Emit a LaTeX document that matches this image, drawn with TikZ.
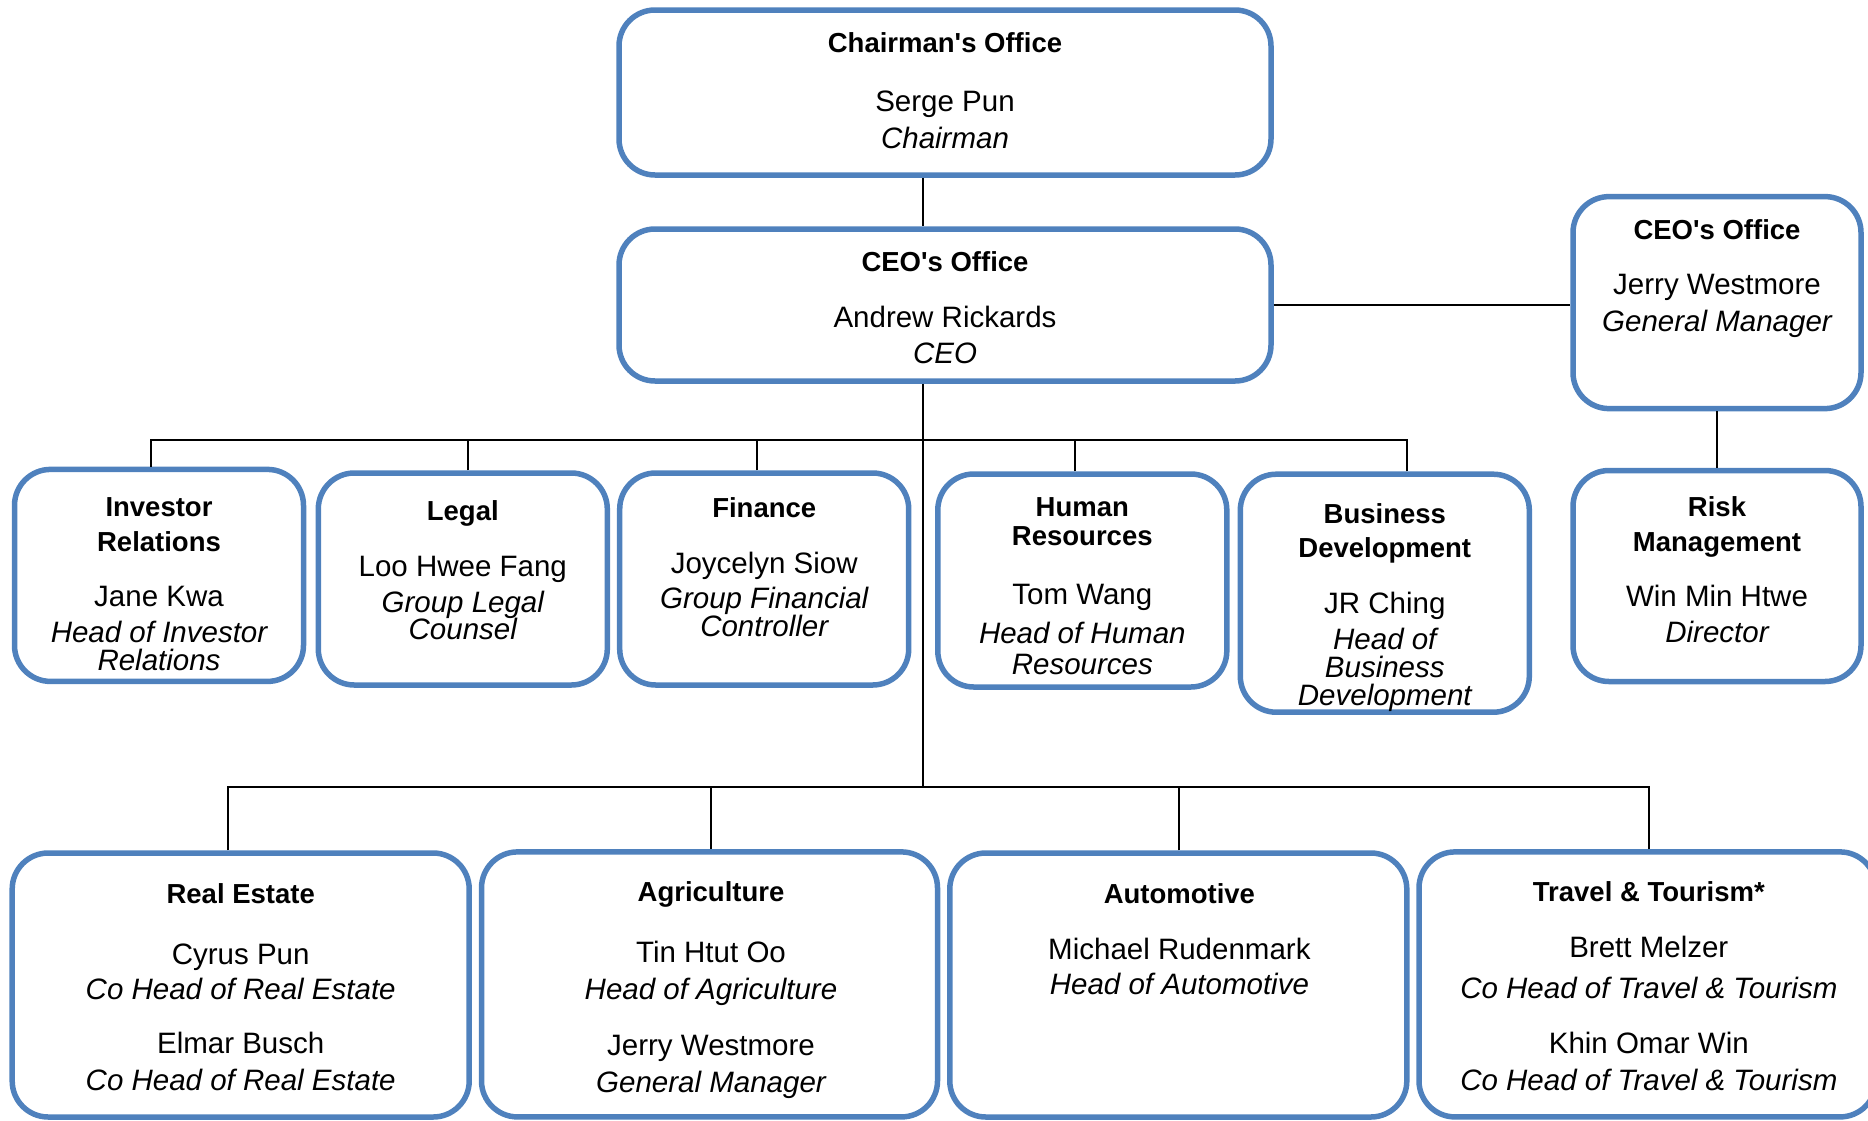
\documentclass[tikz,border=0pt]{standalone}
\usepackage{fontspec}
\setmainfont{Liberation Sans}
\usepackage{tikz}
\usetikzlibrary{calc}
\usepackage{color}

\definecolor{boxblue}{RGB}{79,129,189}

\tikzset{
  unit/.style={draw=boxblue, line width=5.5pt, rounded corners=36pt, inner sep=0pt},
  link/.style={line width=2pt},
  head/.style={font=\bfseries\fontsize{27.5}{30}\selectfont, anchor=base, inner sep=0pt},
  who/.style={font=\fontsize{29.5}{33}\selectfont, anchor=base, inner sep=0pt},
  role/.style={font=\itshape\fontsize{29.5}{33}\selectfont, anchor=base, inner sep=0pt}
}

\begin{document}
\begin{tikzpicture}[x=1pt, y=-1pt]
\useasboundingbox (0,0) rectangle (1868,1120);

% boxes
\node[unit, minimum width=652pt, minimum height=165pt] (chair) at (945,92.5) {};
\node[unit, minimum width=652pt, minimum height=152pt] (ceo) at (945,305) {};
\node[unit, minimum width=288pt, minimum height=212pt] (gm) at (1717,302.6) {};
\node[unit, minimum width=288pt, minimum height=211pt] (risk) at (1717,576) {};
\node[unit, minimum width=289pt, minimum height=212pt] (ir) at (159,575.4) {};
\node[unit, minimum width=289pt, minimum height=212pt] (legal) at (462.8,579) {};
\node[unit, minimum width=289pt, minimum height=212pt] (fin) at (764.2,579) {};
\node[unit, minimum width=289pt, minimum height=213pt] (hr) at (1082.3,580.5) {};
\node[unit, minimum width=289pt, minimum height=238pt] (bd) at (1384.8,593.2) {};
\node[unit, minimum width=457pt, minimum height=264pt] (re) at (240.7,985) {};
\node[unit, minimum width=456pt, minimum height=265pt] (agri) at (709.5,984.4) {};
\node[unit, minimum width=457pt, minimum height=264pt] (auto) at (1178.3,985) {};
\node[unit, minimum width=457pt, minimum height=265pt] (travel) at (1647.5,984.4) {};

% lines
\coordinate (spine) at (923,0);
\coordinate (staff) at (923,439.5);
\coordinate (units) at (923,787);
\draw[link] (chair.south -| spine) -- (ceo.north -| spine);
\draw[link] (ceo.south -| spine) -- (units);
\draw[link] (ceo.east) -- (ceo.east -| gm.west);
\draw[link] (gm.south) -- (risk.north);
\draw[link] ([xshift=-7.7pt]ir.north) |- (staff);
\draw[link] ([xshift=5.4pt]legal.north) |- (staff);
\draw[link] ([xshift=-7.7pt]fin.north) |- (staff);
\draw[link] ([xshift=-7.7pt]hr.north) |- (staff);
\draw[link] ([xshift=22pt]bd.north) |- (staff);
\draw[link] ([xshift=-13pt]re.north) |- (units);
\draw[link] ([xshift=1.7pt]agri.north) |- (units);
\draw[link] ([xshift=1pt]auto.north) |- (units);
\draw[link] ([xshift=1.3pt]travel.north) |- (units);

% top
\node[head] (chair-t) at (945,52) {Chairman\textquotesingle s Office};
\node[who] (chair-n) at (945,111.5) {Serge Pun};
\node[role] (chair-r) at (945,148.5) {Chairman};
\node[head] (ceo-t) at (945,271) {CEO\textquotesingle s Office};
\node[who] (ceo-n) at (945,327.5) {Andrew Rickards};
\node[role] (ceo-r) at (945,363) {CEO};
\node[head] (gm-t) at (1717,239) {CEO\textquotesingle s Office};
\node[who] (gm-n) at (1717,294) {Jerry Westmore};
\node[role] (gm-r) at (1717,331) {General Manager};
\node[head] (risk-t1) at (1717,516.5) {Risk};
\node[head] (risk-t2) at (1717,551) {Management};
\node[who] (risk-n) at (1717,606) {Win Min Htwe};
\node[role] (risk-r) at (1717,642) {Director};

% group functions
\node[head] (ir-t1) at (159,516.5) {Investor};
\node[head] (ir-t2) at (159,551) {Relations};
\node[who] (ir-n) at (159,606) {Jane Kwa};
\node[role] (ir-r1) at (159,642) {Head of Investor};
\node[role] (ir-r2) at (159,670.5) {Relations};
\node[head] (legal-t) at (462.8,520) {Legal};
\node[who] (legal-n) at (462.8,576.4) {Loo Hwee Fang};
\node[role] (legal-r1) at (462.8,612) {Group Legal};
\node[role] (legal-r2) at (462.8,639.5) {Counsel};
\node[head] (fin-t) at (764.2,517.5) {Finance};
\node[who] (fin-n) at (764.2,573) {Joycelyn Siow};
\node[role] (fin-r1) at (764.2,608.5) {Group Financial};
\node[role] (fin-r2) at (764.2,636) {Controller};
\node[head] (hr-t1) at (1082.3,516.5) {Human};
\node[head] (hr-t2) at (1082.3,545) {Resources};
\node[who] (hr-n) at (1082.3,604) {Tom Wang};
\node[role] (hr-r1) at (1082.3,643) {Head of Human};
\node[role] (hr-r2) at (1082.3,674) {Resources};
\node[head] (bd-t1) at (1384.8,523.5) {Business};
\node[head] (bd-t2) at (1384.8,557) {Development};
\node[who] (bd-n) at (1384.8,613) {JR Ching};
\node[role] (bd-r1) at (1384.8,649) {Head of};
\node[role] (bd-r2) at (1384.8,677.5) {Business};
\node[role] (bd-r3) at (1384.8,705) {Development};

% business units
\node[head] (re-t) at (240.7,903.5) {Real Estate};
\node[who] (re-n1) at (240.7,964.7) {Cyrus Pun};
\node[role] (re-r1) at (240.7,999.3) {Co Head of Real Estate};
\node[who] (re-n2) at (240.7,1053) {Elmar Busch};
\node[role] (re-r2) at (240.7,1090) {Co Head of Real Estate};
\node[head] (agri-t) at (711,901) {Agriculture};
\node[who] (agri-n1) at (711,962) {Tin Htut Oo};
\node[role] (agri-r1) at (711,999.3) {Head of Agriculture};
\node[who] (agri-n2) at (711,1055) {Jerry Westmore};
\node[role] (agri-r2) at (711,1092) {General Manager};
\node[head] (auto-t) at (1179.4,903.5) {Automotive};
\node[who] (auto-n) at (1179.4,959) {Michael Rudenmark};
\node[role] (auto-r) at (1179.4,994.5) {Head of Automotive};
\node[head] (travel-t) at (1648.8,901) {Travel \& Tourism*};
\node[who] (travel-n1) at (1648.8,957.5) {Brett Melzer};
\node[role] (travel-r1) at (1648.8,998) {Co Head of Travel \& Tourism};
\node[who] (travel-n2) at (1648.8,1053) {Khin Omar Win};
\node[role] (travel-r2) at (1648.8,1090) {Co Head of Travel \& Tourism};

\end{tikzpicture}
\end{document}
